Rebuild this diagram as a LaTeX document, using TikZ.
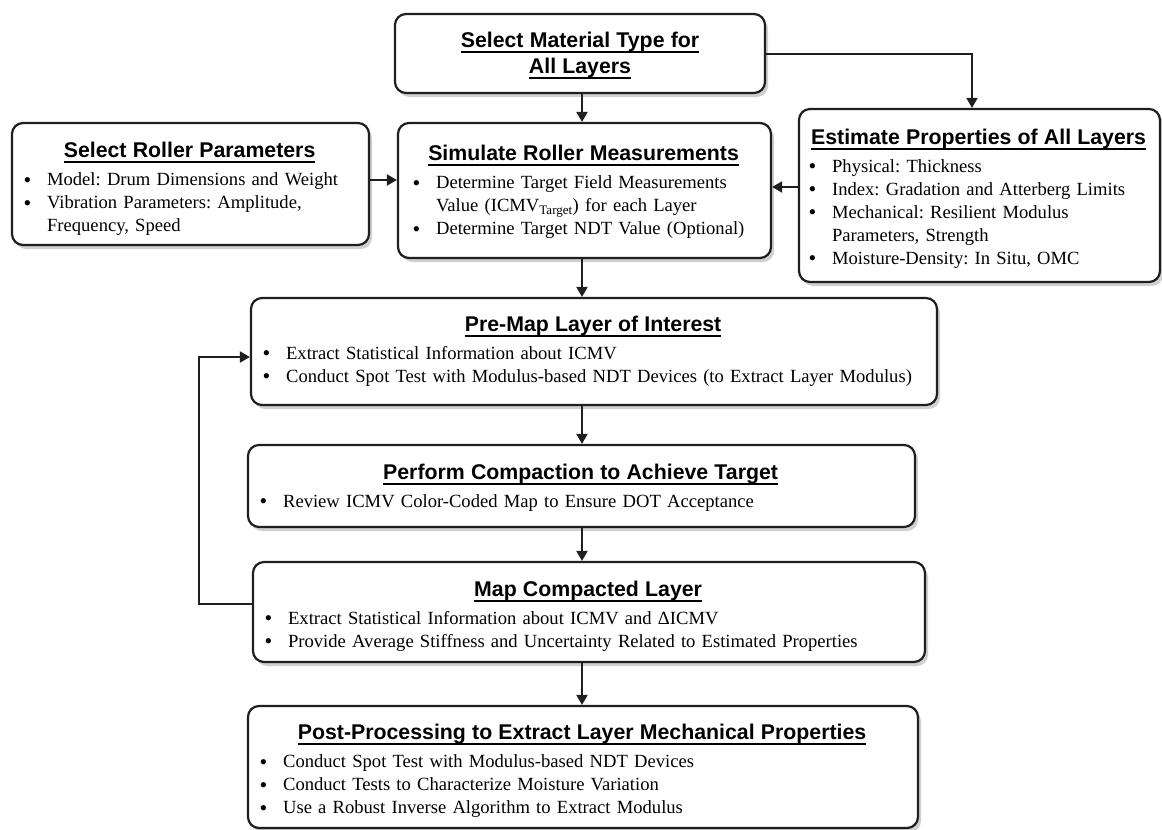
\documentclass[tikz,border=0pt]{standalone}
\usepackage{fontspec}
\setmainfont{Liberation Serif}
\newfontfamily\hdfont{Liberation Sans}
\usetikzlibrary{arrows.meta,shadows,calc}
\setlength\parskip{0pt}
\frenchspacing
\newsavebox\ulbox
\newcommand\uln[1]{\leavevmode\sbox\ulbox{#1}\rlap{\rule[-5.6pt]{\wd\ulbox}{1.8pt}}\usebox\ulbox}
\newcommand\hdf{\hdfont\bfseries\fontsize{21.3}{22.5}\selectfont}
\newcommand\ttl[1]{{\noindent\makebox[\linewidth][c]{\hdf\uln{#1}}\par}\vspace{5.3pt}}
\newcommand\bi[1]{\par\noindent\hangindent=24pt\hangafter=1\relax\makebox[24pt][l]{\hspace{0.5pt}\raisebox{-1.6pt}{\fontsize{22}{23}\selectfont\textbullet}}#1\par}
\newcommand\nl{\hfil\break}
\begin{document}
\begin{tikzpicture}[x=1pt,y=-1pt,
  box/.style={draw=black!88, line width=2.2pt, rounded corners=11pt, fill=white,
    drop shadow={shadow xshift=3pt, shadow yshift=-4pt, opacity=.3, fill=black!60},
    inner sep=0pt},
  txt/.style={inner sep=0pt, align=left, anchor=north west,
    font=\fontsize{18.6}{23}\selectfont},
  arr/.style={draw=black!88, line width=2pt, -{Triangle[length=10pt,width=11pt]}}]
\fill[white] (0,0) rectangle (1162,830);
\useasboundingbox (0,0) rectangle (1162,830);

% boxes
\node[box, minimum width=370pt, minimum height=79pt]  (top)     at (580,53.5) {};
\node[box, minimum width=357pt, minimum height=122pt] (left)    at (190.5,184) {};
\node[box, minimum width=373pt, minimum height=135pt] (mid)     at (584.5,190.5) {};
\node[box, minimum width=361pt, minimum height=173pt] (right)   at (979.5,195.5) {};
\node[box, minimum width=686pt, minimum height=107pt] (premap)  at (594,351.5) {};
\node[box, minimum width=667pt, minimum height=82pt]  (compact) at (581.5,486) {};
\node[box, minimum width=672pt, minimum height=100pt] (map)     at (589,612) {};
\node[box, minimum width=670pt, minimum height=122pt] (post)    at (583,767) {};

% texts
\node[txt, anchor=north, text width=340pt] (top-t) at ([yshift=-19pt]top.north)
  {{\centering\hdfont\bfseries\fontsize{21.3}{25.5}\selectfont\uln{Select Material Type for}\par\uln{All Layers}\par}};

\node[txt, text width=333pt] (left-t) at ([xshift=12pt,yshift=-20pt]left.north west)
  {\ttl{Select Roller Parameters}\bi{Model: Drum Dimensions and Weight}\bi{Vibration Parameters: Amplitude,\nl Frequency, Speed}};

\node[txt, text width=343pt] (mid-t) at ([xshift=15pt,yshift=-23pt]mid.north west)
  {\ttl{Simulate Roller Measurements}\bi{Determine Target Field Measurements\nl Value (ICMV\textsubscript{Target}) for each Layer}\bi{Determine Target NDT Value (Optional)}};

\node[txt, text width=341pt] (right-t) at ([xshift=10pt,yshift=-20.5pt]right.north west)
  {\ttl{Estimate Properties of All Layers}\bi{Physical: Thickness}\bi{Index: Gradation and Atterberg Limits}\bi{Mechanical: Resilient Modulus\nl Parameters, Strength}\bi{Moisture-Density: In Situ, OMC}};

\node[txt, text width=662pt] (premap-t) at ([xshift=12pt,yshift=-18.5pt]premap.north west)
  {\ttl{Pre-Map Layer of Interest}\bi{Extract Statistical Information about ICMV}\bi{Conduct Spot Test with Modulus-based NDT Devices (to Extract Layer Modulus)}};

\node[txt, text width=643pt] (compact-t) at ([xshift=12pt,yshift=-19.5pt]compact.north west)
  {\ttl{Perform Compaction to Achieve Target}\bi{Review ICMV Color-Coded Map to Ensure DOT Acceptance}};

\node[txt, text width=648pt] (map-t) at ([xshift=12pt,yshift=-19.5pt]map.north west)
  {\ttl{Map Compacted Layer}\bi{Extract Statistical Information about ICMV and ΔICMV}\bi{Provide Average Stiffness and Uncertainty Related to Estimated Properties}};

\node[txt, text width=646pt] (post-t) at ([xshift=12pt,yshift=-19pt]post.north west)
  {\ttl{Post-Processing to Extract Layer Mechanical Properties}\bi{Conduct Spot Test with Modulus-based NDT Devices}\bi{Conduct Tests to Characterize Moisture Variation}\bi{Use a Robust Inverse Algorithm to Extract Modulus}};

% connectors
\coordinate (cx) at (582,0);
\coordinate (rx) at (972,0);
\coordinate (fb) at (199,357);

\draw[arr] (top.south -| cx) -- (mid.north -| cx);
\draw[arr] (top.east) -- (top.east -| rx) -- (right.north -| rx);
\draw[arr] ([yshift=4pt]left.east) -- ([yshift=4pt]left.east -| mid.west);
\draw[arr] ([yshift=8.5pt]right.west) -- ([yshift=8.5pt]right.west -| mid.east);
\draw[arr] (mid.south -| cx) -- (premap.north -| cx);
\draw[arr] (premap.south -| cx) -- (compact.north -| cx);
\draw[arr] (compact.south -| cx) -- (map.north -| cx);
\draw[arr] (map.south -| cx) -- (post.north -| cx);
\draw[arr] ([yshift=8pt]map.west) -| (fb) -- (fb -| premap.west);
\end{tikzpicture}
\end{document}
